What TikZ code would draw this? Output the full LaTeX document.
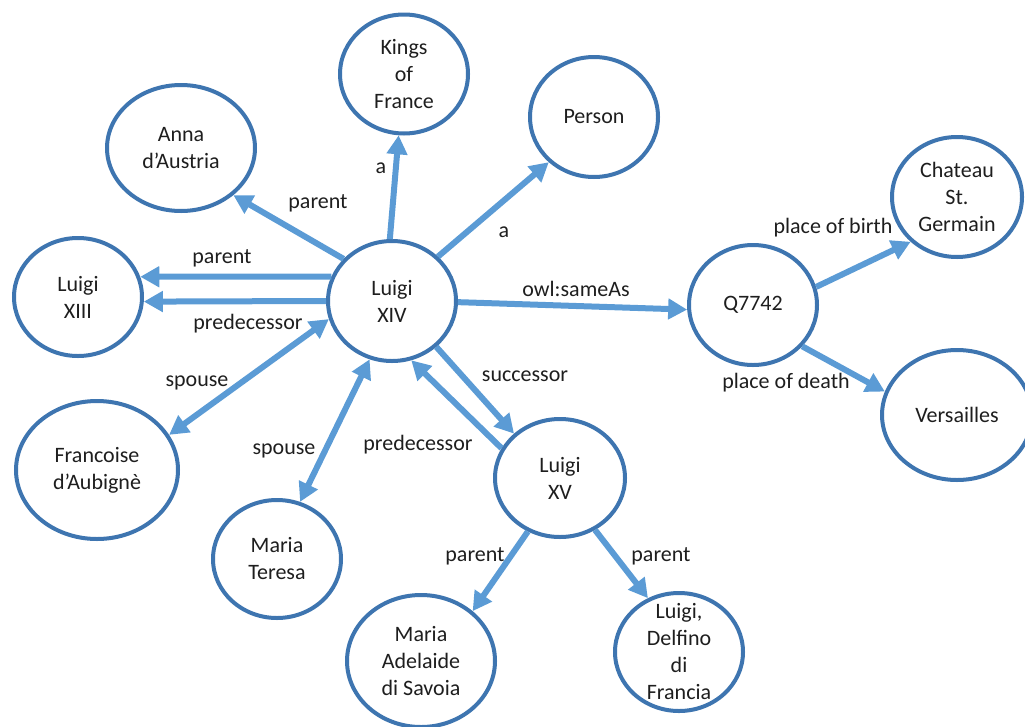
\documentclass[tikz,border=0pt]{standalone}
\usepackage{fontspec}
\setmainfont{Carlito}
\usetikzlibrary{shapes.geometric,arrows.meta}
\definecolor{ringblue}{RGB}{62,117,176}
\definecolor{linkblue}{RGB}{91,155,213}
\definecolor{inkgray}{RGB}{30,30,30}
\tikzset{
  txt/.style={font=\fontsize{22}{27}\selectfont, text=inkgray, align=center},
  entity/.style={ellipse, draw=ringblue, line width=4pt, fill=white, inner sep=0pt},
  tag/.style={txt, inner sep=1pt},
  tip/.style={Triangle[length=19pt,width=20pt]},
  link/.style={draw=linkblue, line width=6pt, -{Triangle[length=19pt,width=20pt]}},
  bilink/.style={draw=linkblue, line width=6pt, {Triangle[length=19pt,width=20pt]}-{Triangle[length=19pt,width=20pt]}},
}
% entity node: #1 = width, #2 = height, #3 = caption
\newcommand{\entity}[5]{%
  \node[entity, minimum width=#2pt, minimum height=#3pt,
        label={[txt]center:#5}] (#1) at (#4) {};}
\begin{document}
\begin{tikzpicture}[x=1pt,y=-1pt]
\useasboundingbox (0,0) rectangle (1025,726);

% entities
\entity{xiv}{128}{120}{392,301}{Luigi\\XIV}
\entity{kings}{128}{119}{404,74}{Kings\\of\\France}
\entity{person}{128}{120}{594,117}{Person}
\entity{anna}{148}{126}{181,148}{Anna\\d’Austria}
\entity{xiii}{128}{118}{78,297}{Luigi\\XIII}
\entity{fran}{162}{138}{97,470}{Francoise\\d’Aubignè}
\entity{teresa}{128}{118}{277,559}{Maria\\Teresa}
\entity{xv}{130}{118}{560,478}{Luigi\\XV}
\entity{adel}{148}{132}{421,661}{Maria\\Adelaide\\di Savoia}
\entity{delf}{128}{118}{679,652}{Luigi,\\Delfino\\di\\Francia}
\entity{q}{128}{120}{753,305}{Q7742}
\entity{chat}{130}{120}{957,197}{Chateau\\St.\\Germain}
\entity{vers}{150}{130}{957,415}{Versailles}

% relations
\draw[link] (xiv.92) -- (kings.265);
\draw[link] (xiv.44) -- (person.225);
\draw[link] (xiv.139) -- (anna.318);
\draw[link] (xiv.158) -- (xiii.18);
\draw[link] (xiv.180) -- (xiii.356);
\draw[bilink] (xiv.196) -- (fran.26);
\draw[bilink] (xiv.249) -- (teresa.68);
\draw[link] (xiv.314) -- (xv.136);
\draw[link] (xv.153) -- (xiv.288);
\draw[link] (xiv.359) -- (q.184);
\draw[link] (q.16) -- (chat.224);
\draw[link] (q.320) -- (vers.162);
\draw[link] (xv.239) -- (adel.44);
\draw[link] (xv.304) -- (delf.120);

% relation names
\node[tag] (lKings) at (381,168) {a};
\node[tag] (lPerson) at (504,232) {a};
\node[tag] (lAnna) at (318,203) {parent};
\node[tag] (lXiiiA) at (222,258) {parent};
\node[tag] (lXiiiB) at (248,324) {predecessor};
\node[tag] (lFran) at (197,383) {spouse};
\node[tag] (lTeresa) at (284,451) {spouse};
\node[tag] (lSucc) at (525,376) {successor};
\node[tag] (lPred) at (418,445) {predecessor};
\node[tag] (lSame) at (576,289) {owl:sameAs};
\node[tag] (lBirth) at (833,228) {place of birth};
\node[tag] (lDeath) at (786,383) {place of death};
\node[tag] (lAdel) at (475,556) {parent};
\node[tag] (lDelf) at (661,556) {parent};
\end{tikzpicture}
\end{document}
